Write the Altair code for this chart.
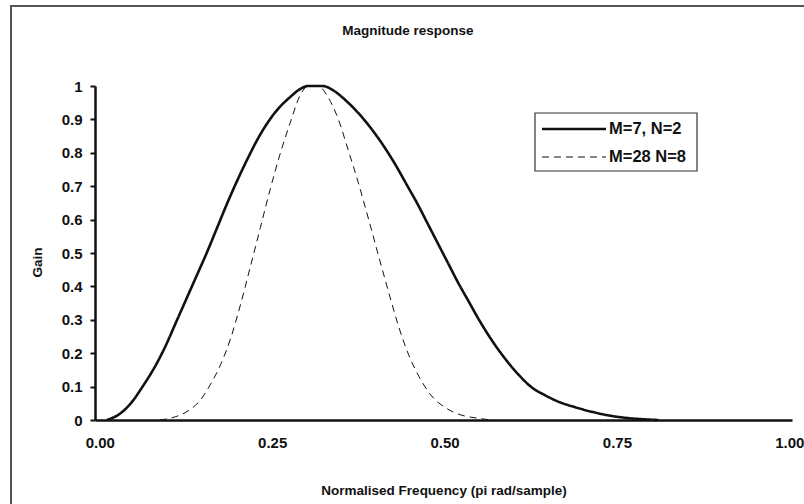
import altair as alt
import pandas as pd

# Normalised frequency (pi rad/sample) and gain for each filter
freq_m7 = [0.010, 0.030, 0.045, 0.062, 0.080, 0.095, 0.110, 0.125, 0.140, 0.155,
           0.170, 0.185, 0.200, 0.215, 0.230, 0.245, 0.260, 0.275, 0.290, 0.302,
           0.323, 0.340, 0.355, 0.370, 0.385, 0.400, 0.415, 0.430, 0.445, 0.460,
           0.475, 0.490, 0.505, 0.520, 0.535, 0.550, 0.565, 0.580, 0.595, 0.610,
           0.625, 0.645, 0.665, 0.690, 0.715, 0.740, 0.765, 0.790, 0.810]
gain_m7 = [0.000, 0.020, 0.050, 0.100, 0.160, 0.220, 0.290, 0.360, 0.430, 0.500,
           0.575, 0.650, 0.720, 0.785, 0.845, 0.895, 0.935, 0.965, 0.990, 1.000,
           1.000, 0.985, 0.960, 0.930, 0.895, 0.855, 0.810, 0.760, 0.705, 0.650,
           0.590, 0.530, 0.470, 0.410, 0.355, 0.300, 0.250, 0.205, 0.165, 0.130,
           0.100, 0.075, 0.055, 0.038, 0.024, 0.013, 0.006, 0.002, 0.000]

freq_m28 = [0.087, 0.110, 0.130, 0.146, 0.160, 0.175, 0.190, 0.204, 0.218, 0.233,
            0.247, 0.262, 0.277, 0.290, 0.303, 0.317, 0.330, 0.346, 0.360, 0.375,
            0.390, 0.405, 0.420, 0.434, 0.448, 0.463, 0.480, 0.502, 0.524, 0.546,
            0.568]
gain_m28 = [0.000, 0.010, 0.030, 0.060, 0.105, 0.165, 0.246, 0.345, 0.456, 0.577,
            0.690, 0.800, 0.895, 0.970, 1.000, 1.000, 0.970, 0.900, 0.810, 0.710,
            0.600, 0.486, 0.375, 0.276, 0.195, 0.130, 0.075, 0.036, 0.015, 0.006,
            0.000]

series_names = ["M=7, N=2", "M=28 N=8"]
legend_slots = [0, 1]
x_ticks = [0.0, 0.25, 0.5, 0.75, 1.0]
y_ticks = [0.0, 0.1, 0.2, 0.3, 0.4, 0.5, 0.6, 0.7, 0.8, 0.9, 1.0]
chart_title = ["Magnitude response"]

rows = []
for f, g in zip(freq_m7, gain_m7):
    rows.append({"freq": f, "gain": g, "series": series_names[0]})
for f, g in zip(freq_m28, gain_m28):
    rows.append({"freq": f, "gain": g, "series": series_names[1]})
df = pd.DataFrame(rows)
legend_df = pd.DataFrame({"series": series_names, "slot": legend_slots})

FONT = "Liberation Sans"
INK = "#111111"

x_scale = alt.Scale(domain=[-0.007, 1.004], nice=False, zero=False)
y_scale = alt.Scale(domain=[0, 1], nice=False)
dash_scale = alt.Scale(domain=series_names, range=[[1, 0], [7, 5]])
width_scale = alt.Scale(domain=series_names, range=[2.6, 1])

lines = alt.Chart(df).mark_line(color=INK, interpolate="monotone").encode(
    x=alt.X("freq:Q", scale=x_scale,
            axis=alt.Axis(values=x_ticks, format=".2f", title="Normalised Frequency (pi rad/sample)",
                          ticks=False, grid=False, domainColor=INK, domainWidth=2.5,
                          labelPadding=15, labelFontSize=15, labelFontWeight="bold",
                          labelColor=INK, labelFont=FONT, titleFont=FONT,
                          titleFontSize=13.5, titleFontWeight="bold", titleColor=INK,
                          titleY=70, titleBaseline="middle")),
    y=alt.Y("gain:Q", scale=y_scale,
            axis=alt.Axis(values=y_ticks, format="~g", title="Gain", grid=False,
                          tickSize=5, tickWidth=2, tickColor=INK,
                          domainColor=INK, domainWidth=2.5,
                          labelPadding=8, labelFontSize=15, labelFontWeight="bold",
                          labelColor=INK, labelFont=FONT, titleFont=FONT,
                          titleFontSize=13.5, titleFontWeight="bold", titleColor=INK,
                          titleX=-58, titleY=176, titleBaseline="middle", titleAngle=-90)),
    strokeDash=alt.StrokeDash("series:N", scale=dash_scale, legend=None),
    strokeWidth=alt.StrokeWidth("series:N", scale=width_scale, legend=None),
)

# legend box with one line sample and label per series
slot_scale = alt.Scale(domain=[0, 1], range=[43, 71])
legend_box = alt.Chart(pd.DataFrame({"k": [0]})).mark_rect(
    fill="white", stroke="#333333", strokeWidth=1.2
).encode(x=alt.value(440), x2=alt.value(602), y=alt.value(27), y2=alt.value(85))
legend_lines = alt.Chart(legend_df).mark_rule(color=INK).encode(
    x=alt.value(447), x2=alt.value(511),
    y=alt.Y("slot:Q", scale=slot_scale, axis=None),
    strokeDash=alt.StrokeDash("series:N", scale=dash_scale, legend=None),
    strokeWidth=alt.StrokeWidth("series:N", scale=width_scale, legend=None),
)
legend_text = alt.Chart(legend_df).mark_text(
    align="left", baseline="middle", font=FONT, fontSize=16.5, fontWeight="bold", color=INK
).encode(
    x=alt.value(514),
    y=alt.Y("slot:Q", scale=slot_scale, axis=None),
    text="series:N",
)
legend_layer = alt.layer(legend_box, legend_lines, legend_text)

# chart title, centred over the whole chart
title_mark = alt.Chart(pd.DataFrame({"title": chart_title})).mark_text(
    align="center", baseline="middle", font=FONT, fontSize=13.5, fontWeight="bold", color=INK
).encode(x=alt.value(313), y=alt.value(-55), text="title:N")

# outer chart frame
frame = alt.Chart(pd.DataFrame({"k": [0]})).mark_rect(
    fill=None, stroke="#555555", strokeWidth=2, clip=False
).encode(
    x=alt.value(-84), y=alt.value(-80), x2=alt.value(720), y2=alt.value(430)
)

chart = alt.layer(frame, title_mark, lines, legend_layer).resolve_scale(y="independent").properties(
    width=697, height=334,
    autosize=alt.AutoSizeParams(type="none"),
    padding={"left": 95, "top": 86, "right": 12, "bottom": 84},
    background="white",
).configure_view(stroke=None)

chart.save("out.html", embed_options={"renderer": "svg", "actions": False})
